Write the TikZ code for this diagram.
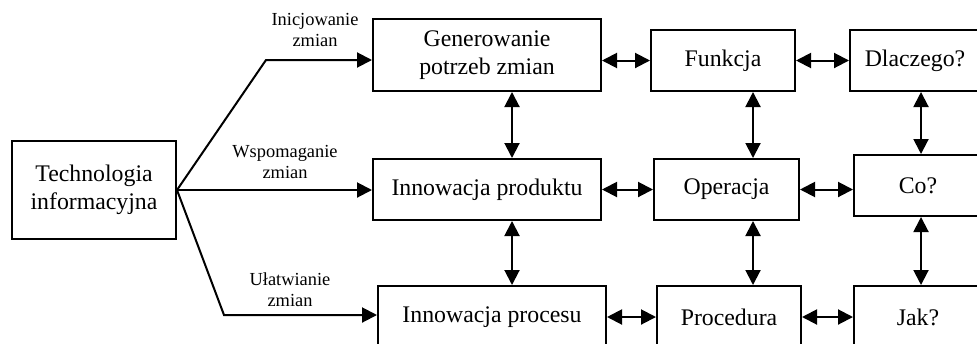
\documentclass[tikz,border=0pt]{standalone}
\usepackage{fontspec}
\setmainfont{Liberation Serif}
\usetikzlibrary{arrows.meta}
\begin{document}
\begin{tikzpicture}[x=0.5pt,y=-0.5pt,
  box/.style={draw,line width=1pt,align=center,inner sep=0pt,
    font=\fontsize{11.9pt}{14pt}\selectfont},
  lbl/.style={align=center,inner sep=0pt,font=\fontsize{9.2pt}{10.6pt}\selectfont},
  link/.style={line width=1pt},
  one/.style={link,-{Triangle[length=7.5pt,width=7.5pt]}},
  both/.style={link,{Triangle[length=7.5pt,width=7.5pt]}-{Triangle[length=7.5pt,width=7.5pt]}}]
\useasboundingbox (0,0) rectangle (977,343);

% source box
\node[box,minimum width=82pt,minimum height=49pt] (tech) at (94,190) {Technologia\\informacyjna};

% first column
\node[box,minimum width=114pt,minimum height=36pt] (gen) at (487,55) {Generowanie\\potrzeb zmian};
\node[box,minimum width=114pt,minimum height=30.5pt] (prod) at (487,189.5) {Innowacja produktu};
\node[box,minimum width=114pt,minimum height=31pt] (proc) at (492,317) {Innowacja procesu};

% second column
\node[box,minimum width=72pt,minimum height=30.5pt] (funk) at (723,60.5) {Funkcja};
\node[box,minimum width=72.5pt,minimum height=30.5pt] (oper) at (726.5,189.5) {Operacja};
\node[box,minimum width=72pt,minimum height=31pt] (procd) at (729,317) {Procedura};

% third column
\node[box,minimum width=65pt,minimum height=30.5pt] (dlacz) at (915,60.5) {Dlaczego?};
\node[box,minimum width=64pt,minimum height=30.5pt] (co) at (918,185.5) {Co?};
\node[box,minimum width=64pt,minimum height=31pt] (jak) at (918,317) {Jak?};

% branch labels
\node[lbl] (l1) at (315,30) {Inicjowanie\\zmian};
\node[lbl] (l2) at (285,162) {Wspomaganie\\zmian};
\node[lbl] (l3) at (290,290) {Ułatwianie\\zmian};

% branches from the source box
\coordinate (k1) at (266,60);
\coordinate (k3) at (224,315);
\draw[one] (tech.east) -- (k1) -- (k1 -| gen.west);
\draw[one] (tech.east) -- (tech.east -| prod.west);
\draw[one] (tech.east) -- (k3) -- (k3 -| proc.west);

% horizontal links
\draw[both] (gen.east |- funk.west) -- (funk.west);
\draw[both] (funk.east) -- (funk.east -| dlacz.west);
\draw[both] (prod.east) -- (prod.east -| oper.west);
\draw[both] (oper.east) -- (oper.east -| co.west);
\draw[both] (proc.east) -- (proc.east -| procd.west);
\draw[both] (procd.east) -- (procd.east -| jak.west);

% vertical links
\coordinate (v1) at (512,0);
\coordinate (v2) at (753,0);
\coordinate (v3) at (921,0);
\draw[both] (gen.south -| v1) -- (prod.north -| v1);
\draw[both] (prod.south -| v1) -- (proc.north -| v1);
\draw[both] (funk.south -| v2) -- (oper.north -| v2);
\draw[both] (oper.south -| v2) -- (procd.north -| v2);
\draw[both] (dlacz.south -| v3) -- (co.north -| v3);
\draw[both] (co.south -| v3) -- (jak.north -| v3);
\end{tikzpicture}
\end{document}
